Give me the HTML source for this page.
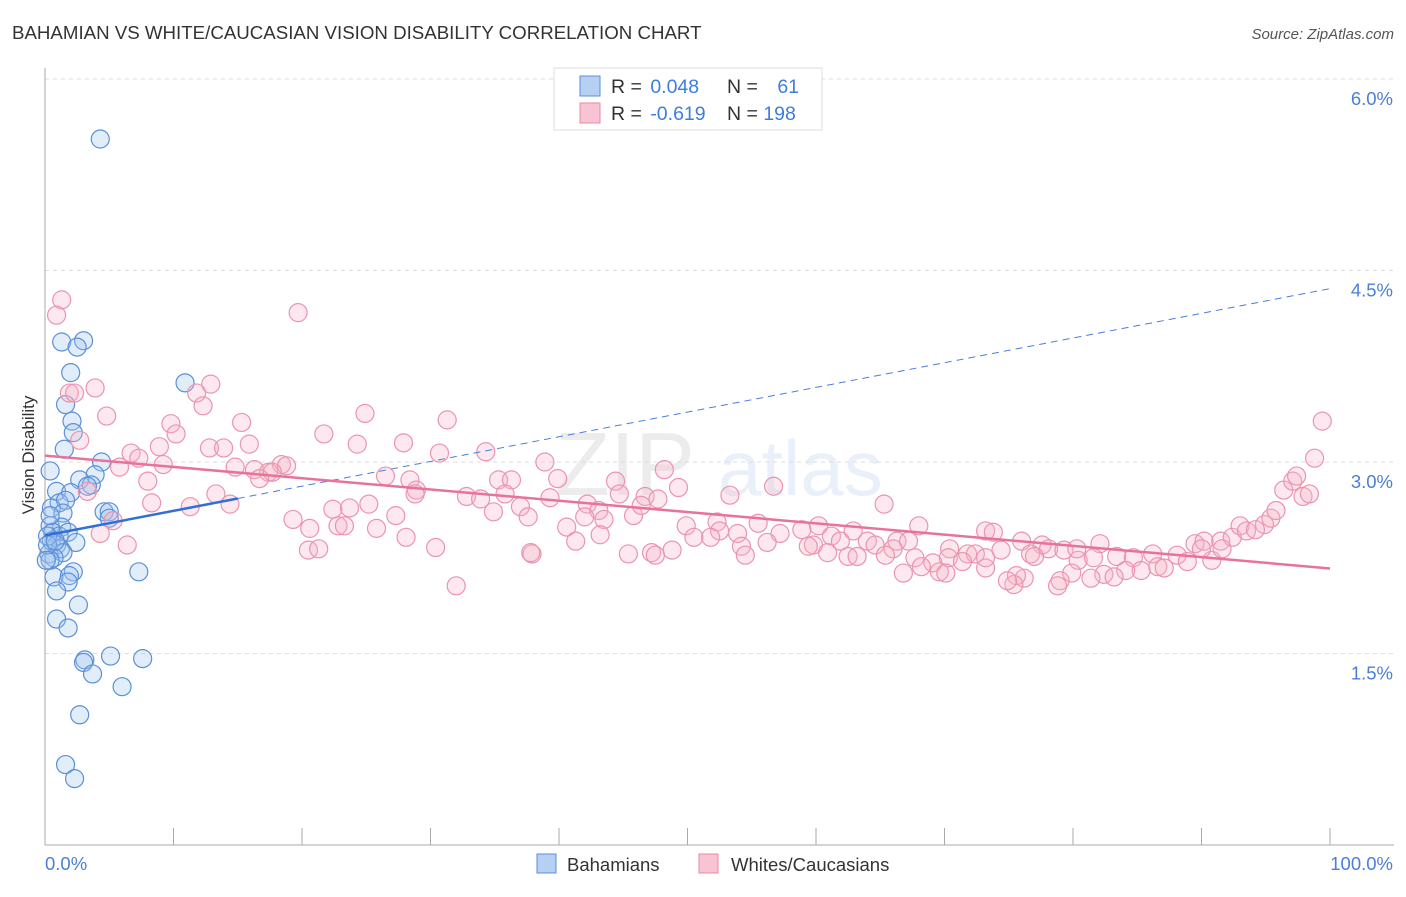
<!DOCTYPE html>
<html><head><meta charset="utf-8"><style>
body{margin:0;background:#fff;font-family:"Liberation Sans",sans-serif}
svg text{font-family:"Liberation Sans",sans-serif}
</style></head><body>
<svg id="chart" width="1406" height="892" viewBox="0 0 1406 892" xmlns="http://www.w3.org/2000/svg">
<text x="12" y="39" font-size="18.7" fill="#333">BAHAMIAN VS WHITE/CAUCASIAN VISION DISABILITY CORRELATION CHART</text>
<text x="1394" y="39" font-size="15" fill="#555" font-style="italic" text-anchor="end">Source: ZipAtlas.com</text>
<g opacity="0.13">
<text x="555" y="495" font-size="90" font-family="Liberation Serif" fill="#777">ZIP</text>
<text x="718" y="495" font-size="78" fill="#5b8fd9">atlas</text>
</g>
<g id="grid"></g>
<g id="axes"></g>
<g id="blue-pts"></g>
<g id="pink-pts"></g>
<g id="lines"></g>
<text transform="translate(34,455) rotate(-90)" font-size="17" fill="#333" text-anchor="middle">Vision Disability</text>
<g>
<rect x="554" y="68" width="268" height="62" fill="#fff" stroke="#ddd"/>
<rect x="580" y="76" width="20" height="20" fill="#b6d0f3" stroke="#5b8fd9"/>
<rect x="580" y="103" width="20" height="20" fill="#f8c4d4" stroke="#e88aa8"/>
<text x="611" y="93" font-size="19.5" fill="#333">R = <tspan fill="#3d7ddb" dx="3">0.048</tspan></text>
<text x="727" y="93" font-size="19.5" fill="#333">N = <tspan fill="#3d7ddb" dx="14">61</tspan></text>
<text x="611" y="120" font-size="19.5" fill="#333">R = <tspan fill="#3d7ddb" dx="3">-0.619</tspan></text>
<text x="727" y="120" font-size="19.5" fill="#333">N = <tspan fill="#3d7ddb">198</tspan></text>
</g>
<g>
<rect x="537" y="854" width="19" height="19" fill="#b6d0f3" stroke="#5b8fd9"/>
<text x="567" y="871" font-size="18.5" fill="#333">Bahamians</text>
<rect x="699" y="854" width="19" height="19" fill="#f8c4d4" stroke="#e88aa8"/>
<text x="731" y="871" font-size="18.5" fill="#333">Whites/Caucasians</text>
</g>
</svg>
<script>
const yTicks=[1.5,3.0,4.5,6.0];
const yTickLabels=["1.5%","3.0%","4.5%","6.0%"];
const xTickLabels=["0.0%","100.0%"];
const blueX=[4.3,1.3,3.0,2.5,2.0,1.6,2.1,2.2,1.5,4.4,3.9,2.7,3.6,3.3,0.9,2.0,1.1,1.6,0.5,1.4,4.6,5.0,5.0,0.4,1.3,0.6,1.1,1.8,2.4,0.5,0.9,1.2,0.3,1.4,0.7,0.4,2.2,0.7,1.9,1.8,0.9,2.6,0.9,1.8,3.1,3.0,5.1,7.6,3.7,6.0,2.7,1.6,2.3,7.3,10.9,0.4,0.2,0.2,0.8,0.1,0.4];
const blueY=[5.53,3.94,3.95,3.90,3.70,3.45,3.32,3.23,3.10,3.00,2.90,2.86,2.82,2.81,2.77,2.76,2.68,2.70,2.64,2.60,2.61,2.61,2.56,2.50,2.49,2.45,2.42,2.45,2.37,2.38,2.35,2.32,2.28,2.29,2.25,2.23,2.14,2.10,2.11,2.06,1.99,1.88,1.77,1.70,1.45,1.43,1.48,1.46,1.34,1.24,1.02,0.63,0.52,2.14,3.62,2.58,2.42,2.35,2.38,2.23,2.93];
const pinkX=[1.3,0.9,19.7,3.9,1.9,2.3,12.9,11.8,12.3,4.8,24.9,31.3,9.8,15.3,21.7,10.2,2.7,15.9,24.3,27.9,34.3,12.8,13.9,30.7,6.7,8.9,7.3,5.8,9.2,14.8,18.4,18.8,16.3,17.4,17.7,38.9,48.2,16.7,26.5,28.4,35.3,36.3,44.4,8.0,49.3,56.7,3.3,28.9,13.3,14.4,28.8,32.8,33.9,39.9,35.8,39.3,44.7,46.7,47.7,53.3,11.3,8.3,22.4,23.7,25.2,37.0,42.2,43.1,34.9,42.0,43.5,45.8,46.4,65.3,5.3,19.3,22.8,23.3,27.3,37.6,40.6,4.3,20.6,25.8,49.9,52.3,55.5,58.9,60.2,62.9,68.0,73.2,73.8,52.5,50.5,51.8,53.9,57.2,61.2,61.9,64.0,66.3,67.2,76.0,82.1,77.6,78.1,6.4,28.1,43.2,54.2,56.2,59.8,64.6,66.0,70.4,71.8,72.4,74.4,76.7,79.3,80.4,30.4,20.5,21.3,41.3,37.9,45.4,47.2,48.8,54.5,59.4,60.9,62.5,63.2,65.4,67.7,69.1,70.3,71.4,77.0,80.3,81.6,83.4,84.7,86.2,88.1,89.5,90.2,91.5,92.4,93.0,93.5,94.9,95.4,96.4,97.1,97.9,98.4,97.4,98.8,99.4,95.8,94.2,90.8,88.9,86.6,85.3,84.1,82.4,83.2,81.4,79.9,79.0,78.8,76.2,75.6,75.4,74.9,73.2,69.6,66.8,70.1,68.2,87.1,91.6,90.0,73.2,32.0,37.8,47.5];
const pinkY=[4.27,4.15,4.17,3.58,3.54,3.54,3.61,3.54,3.44,3.36,3.38,3.33,3.30,3.31,3.22,3.22,3.17,3.14,3.14,3.15,3.08,3.11,3.11,3.07,3.07,3.12,3.03,2.96,2.98,2.96,2.98,2.97,2.94,2.92,2.92,3.00,2.94,2.87,2.89,2.86,2.86,2.86,2.85,2.85,2.80,2.81,2.77,2.78,2.75,2.67,2.75,2.73,2.71,2.87,2.75,2.72,2.75,2.73,2.71,2.74,2.65,2.68,2.63,2.64,2.67,2.65,2.67,2.62,2.61,2.57,2.55,2.58,2.66,2.67,2.54,2.55,2.50,2.50,2.58,2.57,2.49,2.44,2.48,2.48,2.50,2.53,2.52,2.47,2.50,2.46,2.50,2.46,2.45,2.46,2.41,2.41,2.44,2.44,2.42,2.38,2.38,2.38,2.38,2.38,2.36,2.35,2.32,2.35,2.41,2.43,2.34,2.37,2.35,2.35,2.32,2.32,2.28,2.28,2.31,2.28,2.31,2.23,2.33,2.31,2.32,2.38,2.28,2.28,2.29,2.31,2.27,2.34,2.29,2.26,2.26,2.27,2.25,2.21,2.25,2.22,2.26,2.32,2.25,2.26,2.25,2.28,2.27,2.36,2.38,2.38,2.41,2.50,2.46,2.51,2.56,2.78,2.85,2.73,2.75,2.89,3.03,3.32,2.62,2.47,2.23,2.22,2.18,2.15,2.15,2.12,2.10,2.09,2.13,2.07,2.03,2.09,2.11,2.04,2.07,2.17,2.14,2.13,2.13,2.18,2.17,2.32,2.32,2.25,2.03,2.29,2.27];
const blueTrend=[2.424,4.358];
const pinkTrend=[3.05,2.166];

const NS="http://www.w3.org/2000/svg";
const X0=45,X1=1330,YB=845;
function sx(v){return X0+(X1-X0)*v/100;}
function sy(v){return YB-v*(191.5/1.5);}
function mk(tag,attrs,parent){const e=document.createElementNS(NS,tag);for(const k in attrs)e.setAttribute(k,attrs[k]);parent.appendChild(e);return e;}

const grid=document.getElementById('grid'),axes=document.getElementById('axes');
yTicks.forEach((t,i)=>{
  const l=mk('line',{x1:X0,x2:1394,y1:sy(t),y2:sy(t),stroke:'#ddd','stroke-dasharray':'4,4'},grid);
  
  
  const tx=mk('text',{x:1393,y:sy(t)+26,'font-size':18.5,fill:'#4a7fd8','text-anchor':'end'},axes);
  tx.textContent=yTickLabels[i];
  
  
});
const ya=mk('line',{x1:X0,x2:X0,y1:68,y2:YB,stroke:'#aaa'},axes);


const xa=mk('line',{x1:X0,x2:1394,y1:YB,y2:YB,stroke:'#aaa'},axes);


for(let i=0;i<=10;i++){
  const t=mk('line',{x1:sx(i*10),x2:sx(i*10),y1:828,y2:YB,stroke:'#aaa'},axes);
  
  
}
const xl0=mk('text',{x:45,y:870,'font-size':18.5,fill:'#4a7fd8'},axes);
xl0.textContent=xTickLabels[0];


const xl1=mk('text',{x:1393,y:870,'font-size':18.5,fill:'#4a7fd8','text-anchor':'end'},axes);
xl1.textContent=xTickLabels[1];



const bp=document.getElementById('blue-pts');
blueX.forEach((x,i)=>{
  const c=mk('circle',{cx:sx(x),cy:sy(blueY[i]),r:9,fill:'rgba(160,196,240,0.3)',stroke:'#5b8fd9','stroke-width':1.2},bp);
  
  
});
const pp=document.getElementById('pink-pts');
pinkX.forEach((x,i)=>{
  const c=mk('circle',{cx:sx(x),cy:sy(pinkY[i]),r:9,fill:'rgba(245,180,200,0.3)',stroke:'#ec93b0','stroke-width':1.2},pp);
  
  
});
const lg=document.getElementById('lines');
const bmid=blueTrend[0]+(blueTrend[1]-blueTrend[0])*0.15;
const bl=mk('line',{x1:sx(0),y1:sy(blueTrend[0]),x2:sx(15),y2:sy(bmid),stroke:'#2f6fd6','stroke-width':2.5},lg);


const bd=mk('line',{x1:sx(15),y1:sy(bmid),x2:sx(100),y2:sy(blueTrend[1]),stroke:'#4a7fd8','stroke-width':1,'stroke-dasharray':'7,5'},lg);


const pl=mk('line',{x1:sx(0),y1:sy(pinkTrend[0]),x2:sx(100),y2:sy(pinkTrend[1]),stroke:'#e8739a','stroke-width':2.5},lg);


</script>
</body></html>
